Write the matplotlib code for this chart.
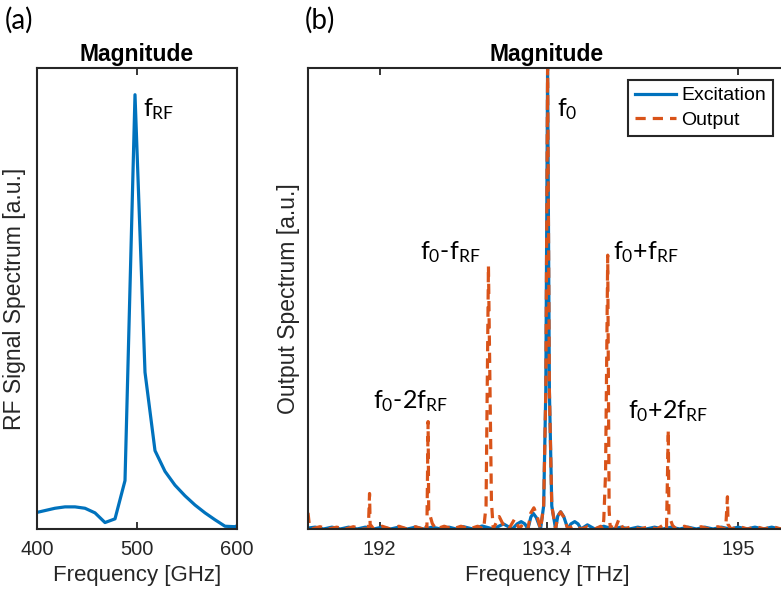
import matplotlib
matplotlib.use("Agg")
import matplotlib.pyplot as plt

# RF drive spectrum (GHz, normalised magnitude)
rf_ghz = [400, 418, 428, 438, 448, 458, 468, 478, 488, 498, 508, 518, 528,
          538, 548, 558, 568, 578, 588, 598, 600]
rf_mag = [0.036, 0.045, 0.048, 0.048, 0.045, 0.035, 0.014, 0.022, 0.105, 0.942,
          0.34, 0.17, 0.125, 0.095, 0.072, 0.052, 0.035, 0.02, 0.006, 0.005, 0.007]

# optical spectra (THz, normalised magnitude)
exc_thz = [191.40, 191.46, 191.53, 191.60, 191.67, 191.74, 191.81, 191.88, 191.95,
           192.02, 192.09, 192.16, 192.23, 192.30, 192.37, 192.44, 192.51, 192.58,
           192.64, 192.70, 192.78, 192.857, 192.95, 193.036, 193.11, 193.15, 193.184,
           193.215, 193.24, 193.265, 193.285, 193.31, 193.346, 193.372, 193.39, 193.405,
           193.42, 193.44, 193.472, 193.49, 193.514, 193.54, 193.575, 193.60, 193.632,
           193.66, 193.685, 193.738, 193.80, 193.875, 193.95, 194.02, 194.09, 194.16,
           194.23, 194.30, 194.37, 194.44, 194.51, 194.58, 194.65, 194.72, 194.79,
           194.86, 194.93, 195.00, 195.07, 195.14, 195.21, 195.28, 195.35, 195.40]
exc_mag = [0.002, 0.004, 0.0, 0.004, 0.0, 0.004, 0.0, 0.004, 0.0,
           0.004, 0.0, 0.004, 0.0, 0.004, 0.0, 0.004, 0.0, 0.004,
           0.0, 0.005, 0.0, 0.0065, 0.0, 0.011, 0.0, 0.011, 0.016,
           0.011, 0.0, 0.026, 0.034, 0.025, 0.0, 0.05, 0.3, 1.0,
           0.3, 0.05, 0.0, 0.028, 0.0375, 0.027, 0.0, 0.011, 0.016,
           0.011, 0.0, 0.009, 0.0, 0.006, 0.0, 0.004, 0.0, 0.004,
           0.0, 0.004, 0.0, 0.004, 0.0, 0.004, 0.0, 0.004, 0.0,
           0.004, 0.0, 0.004, 0.0, 0.004, 0.0, 0.004, 0.0, 0.002]

out_thz = [191.40, 191.41, 191.43, 191.50, 191.57, 191.64, 191.71, 191.78, 191.85,
           191.905, 191.915, 191.92, 191.95, 192.02, 192.09, 192.16, 192.23, 192.30,
           192.36, 192.38, 192.395, 192.405, 192.41, 192.44, 192.47, 192.54, 192.61,
           192.68, 192.75, 192.82, 192.87, 192.89, 192.91, 192.935, 192.95, 193.0,
           193.04, 193.08, 193.13, 193.17, 193.20, 193.24, 193.265, 193.29, 193.315,
           193.346, 193.372, 193.39, 193.405, 193.42, 193.44, 193.472, 193.49, 193.514,
           193.54, 193.575, 193.62, 193.685, 193.74, 193.80, 193.85, 193.865, 193.875,
           193.89, 193.908, 193.92, 193.93, 193.95, 193.97, 194.0, 194.04, 194.11,
           194.18, 194.25, 194.32, 194.37, 194.40, 194.415, 194.42, 194.45, 194.48,
           194.55, 194.62, 194.69, 194.76, 194.83, 194.895, 194.91, 194.915, 194.94,
           195.01, 195.08, 195.15, 195.22, 195.29, 195.36, 195.40]
out_mag = [0.035, 0.012, 0.0, 0.005, 0.0, 0.004, 0.0, 0.005, 0.0,
           0.0, 0.077, 0.01, 0.0, 0.006, 0.0, 0.006, 0.0, 0.005,
           0.0, 0.012, 0.0, 0.233, 0.04, 0.012, 0.0, 0.006, 0.0,
           0.006, 0.0, 0.006, 0.0, 0.05, 0.571, 0.06, 0.0, 0.027,
           0.006, 0.0, 0.022, 0.0, 0.012, 0.0, 0.035, 0.046, 0.03,
           0.0, 0.05, 0.3, 1.0, 0.3, 0.05, 0.0, 0.028, 0.037,
           0.026, 0.0, 0.008, 0.0, 0.005, 0.0, 0.006, 0.0, 0.02,
           0.12, 0.594, 0.04, 0.0, 0.012, 0.0, 0.02, 0.0, 0.005,
           0.0, 0.005, 0.0, 0.008, 0.0, 0.215, 0.03, 0.008, 0.0,
           0.006, 0.0, 0.005, 0.0, 0.005, 0.0, 0.07, 0.01, 0.0,
           0.005, 0.0, 0.005, 0.0, 0.005, 0.0, 0.003]

rf_ticks = [400, 500, 600]
opt_ticks = [192, 193.4, 195]
opt_ticklabels = ['192', '193.4', '195']

# labels for the spectral lines: (text, x, y)
rf_label = (r'f$_{\mathrm{RF}}$', 506, 0.895)
opt_labels = [
    (r'f$_{\mathrm{0}}$', 193.486, 0.895),
    (r'f$_{\mathrm{0}}$-f$_{\mathrm{RF}}$', 192.34, 0.585),
    (r'f$_{\mathrm{0}}$+f$_{\mathrm{RF}}$', 193.95, 0.585),
    (r'f$_{\mathrm{0}}$-2f$_{\mathrm{RF}}$', 191.94, 0.262),
    (r'f$_{\mathrm{0}}$+2f$_{\mathrm{RF}}$', 194.08, 0.24),
]

blue = '#0072BD'
orange = '#D95319'
dark = '#262626'

plt.rcParams['font.family'] = ['Liberation Sans', 'DejaVu Sans']
plt.rcParams['mathtext.fontset'] = 'custom'
plt.rcParams['mathtext.rm'] = 'Lato'
plt.rcParams['mathtext.it'] = 'Lato:italic'
plt.rcParams['mathtext.bf'] = 'Lato:bold'

W, H = 781, 598
fig = plt.figure(figsize=(W / 100, H / 100), dpi=100)
ax1 = fig.add_axes([37 / W, 69 / H, 200 / W, 461 / H])
ax2 = fig.add_axes([308 / W, 69 / H, 478 / W, 461 / H])

for ax in (ax1, ax2):
    for sp in ax.spines.values():
        sp.set_linewidth(1.5)
        sp.set_color(dark)
    ax.tick_params(axis='x', direction='in', top=True, length=5, width=1.3,
                   color=dark, labelsize=14.5, labelcolor=dark, pad=8)
    ax.set_yticks([])
    ax.set_ylim(0, 1)
    ax.set_title('Magnitude', fontsize=16.5, fontweight='bold', pad=5)

# (a) RF signal
ax1.plot(rf_ghz, rf_mag, color=blue, lw=2.3)
ax1.set_xlim(400, 600)
ax1.set_xticks(rf_ticks)
ax1.set_xlabel('Frequency [GHz]', fontsize=16, color=dark, labelpad=4)
ax1.set_ylabel('RF Signal Spectrum [a.u.]', fontsize=16.5, color=dark, labelpad=8)
ax1.text(rf_label[1], rf_label[2], rf_label[0], family='Lato', fontsize=18)

# (b) optical spectrum
ax2.plot(exc_thz, exc_mag, color=blue, lw=2.3, label='Excitation')
ax2.plot(out_thz, out_mag, color=orange, lw=2.3, ls=(0, (3.2, 2.2)), label='Output')
ax2.set_xlim(191.4, 195.4)
ax2.set_xticks(opt_ticks)
ax2.set_xticklabels(opt_ticklabels)
ax2.set_xlabel('Frequency [THz]', fontsize=16, color=dark, labelpad=4)
ax2.set_ylabel('Output Spectrum [a.u.]', fontsize=16.5, color=dark, labelpad=6)
for txt, x, y in opt_labels:
    ax2.text(x, y, txt, family='Lato', fontsize=18)

leg = ax2.legend(loc='upper right', bbox_to_anchor=(773 / W, 1 - 80 / H),
                 bbox_transform=fig.transFigure, borderaxespad=0, fontsize=14,
                 fancybox=False, framealpha=1, edgecolor=dark, handlelength=2.1,
                 handletextpad=0.3, borderpad=0.35, labelspacing=0.35)
leg.get_frame().set_linewidth(1.5)

fig.text(5 / W, 1 - 20 / H, '(a)', family='Lato', fontsize=20, va='center')
fig.text(305 / W, 1 - 20 / H, '(b)', family='Lato', fontsize=20, va='center')

fig.savefig('out.png', dpi=100)
